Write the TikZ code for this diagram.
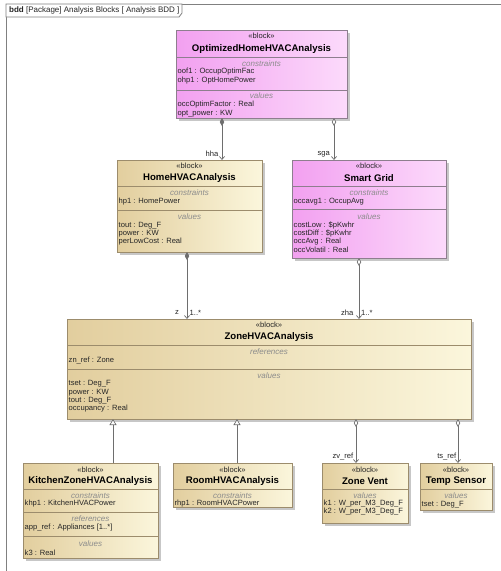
\documentclass[tikz,border=0pt]{standalone}
\usepackage{fontspec}
\setmainfont{Liberation Sans}
\usetikzlibrary{arrows.meta,shadows}

\definecolor{pinkL}{HTML}{F2A0F0}
\definecolor{pinkR}{HTML}{FCDAFB}
\definecolor{pinkB}{HTML}{8E7E8E}
\definecolor{tanL}{HTML}{E2CE9E}
\definecolor{tanR}{HTML}{FBF6DC}
\definecolor{tanB}{HTML}{9C8C6C}
\definecolor{txt}{HTML}{262626}
\definecolor{titlegray}{HTML}{8C8C8C}
\definecolor{linegray}{HTML}{6E6E6E}
\definecolor{framegray}{HTML}{808080}

% block outline at given corners: name, x1, y1, x2, y2, style
\newcommand\mkblock[6]{%
  \node[#6, minimum width={(#4)-(#2)}, minimum height={(#5)-(#3)}]
    (#1) at ({((#2)+(#4))/2},{((#3)+(#5))/2}) {};}
\newcommand\bkst[3]{\node[stereo] (#1) at (#2,#3) {«block»};}
\newcommand\bknm[4]{\node[bname] (#1) at (#2,#3) {#4};}
\newcommand\bkct[4]{\node[ctitle] (#1) at (#2,#3) {#4};}
\newcommand\bkat[4]{\node[attr] (#1) at (#2,#3) {#4};}

\begin{document}
\begin{tikzpicture}[x=1pt,y=-1pt,
  blockbase/.style={line width=0.7pt, inner sep=0pt, outer sep=0pt,
    drop shadow={shadow xshift=2.5pt, shadow yshift=-2.5pt, fill=black, opacity=0.22}},
  pinkblk/.style={blockbase, draw=pinkB, left color=pinkL, right color=pinkR},
  tanblk/.style={blockbase, draw=tanB, left color=tanL, right color=tanR},
  sepP/.style={draw=pinkB, line width=0.6pt},
  sepT/.style={draw=tanB, line width=0.6pt},
  stereo/.style={font=\fontsize{7.6}{8}\selectfont, text=txt, inner sep=0pt},
  bname/.style={font=\bfseries\fontsize{9.6}{11}\selectfont, text=black, inner sep=0pt},
  ctitle/.style={font=\itshape\fontsize{8}{9}\selectfont, text=titlegray, inner sep=0pt},
  attr/.style={font=\fontsize{7.6}{8}\selectfont, text=txt, inner sep=0pt, anchor=west},
  lbl/.style={font=\fontsize{7.6}{8}\selectfont, text=txt, inner sep=0pt},
  conn/.style={draw=linegray, line width=0.7pt},
  compo/.style={conn, {Diamond[length=8pt,width=4.5pt]}-{Straight Barb[length=3pt,width=5pt]}},
  aggr/.style={conn, {Diamond[length=8pt,width=4.5pt,fill=white]}-{Straight Barb[length=3pt,width=5pt]}},
  genl/.style={conn, -{Triangle[length=6pt,width=7pt,fill=white]}},
  framel/.style={draw=framegray, line width=0.8pt}
]
\useasboundingbox (0,0) rectangle (501,571);
\fill[white] (0,0) rectangle (501,571);

% diagram frame and its name tab
\draw[framel] (6,571) -- (6,4) -- (501,4);
\draw[framel, fill=white] (6,4) -- (182,4) -- (182,13) -- (179,17) -- (6,17) -- cycle;
\node[lbl, anchor=west, font=\fontsize{8}{9}\selectfont] (tab) at (9,10.5)
  {\textbf{bdd} [Package] Analysis Blocks [ Analysis BDD ]};

% ---------- OptimizedHomeHVACAnalysis
\mkblock{opt}{176}{30}{347}{118}{pinkblk}
\draw[sepP] (176,57.5) -- (347,57.5);
\draw[sepP] (176,90) -- (347,90);
\bkst{opt-s}{261.5}{35.5}
\bknm{opt-n}{261.5}{49.5}{OptimizedHomeHVACAnalysis}
\bkct{opt-c}{261.5}{63.5}{constraints}
\bkat{opt-a1}{177.5}{72}{oof1 : OccupOptimFac}
\bkat{opt-a2}{177.5}{80.5}{ohp1 : OptHomePower}
\bkct{opt-v}{261.5}{96}{values}
\bkat{opt-a3}{177.5}{105}{occOptimFactor : Real}
\bkat{opt-a4}{177.5}{113.5}{opt\_power : KW}

% ---------- HomeHVACAnalysis
\mkblock{home}{117}{160}{262}{252}{tanblk}
\draw[sepT] (117,186.5) -- (262,186.5);
\draw[sepT] (117,210) -- (262,210);
\bkst{home-s}{189.5}{166}
\bknm{home-n}{189.5}{178.5}{HomeHVACAnalysis}
\bkct{home-c}{189.5}{192.5}{constraints}
\bkat{home-a1}{118.5}{201.5}{hp1 : HomePower}
\bkct{home-v}{189.5}{217}{values}
\bkat{home-a2}{118.5}{225.5}{tout : Deg\_F}
\bkat{home-a3}{118.5}{233.5}{power : KW}
\bkat{home-a4}{118.5}{241.5}{perLowCost : Real}

% ---------- Smart Grid
\mkblock{grid}{292}{160}{446}{258}{pinkblk}
\draw[sepP] (292,186.5) -- (446,186.5);
\draw[sepP] (292,209.5) -- (446,209.5);
\bkst{grid-s}{369}{166}
\bknm{grid-n}{369}{178.5}{Smart Grid}
\bkct{grid-c}{369}{193}{constraints}
\bkat{grid-a1}{293.5}{201.5}{occavg1 : OccupAvg}
\bkct{grid-v}{369}{217}{values}
\bkat{grid-a2}{293.5}{225}{costLow : \$pKwhr}
\bkat{grid-a3}{293.5}{233.3}{costDiff : \$pKwhr}
\bkat{grid-a4}{293.5}{241.7}{occAvg : Real}
\bkat{grid-a5}{293.5}{250}{occVolatil : Real}

% ---------- ZoneHVACAnalysis
\mkblock{zone}{67}{319}{471}{419}{tanblk}
\draw[sepT] (67,345) -- (471,345);
\draw[sepT] (67,369.5) -- (471,369.5);
\bkst{zone-s}{269}{325}
\bknm{zone-n}{269}{337.5}{ZoneHVACAnalysis}
\bkct{zone-r}{269}{351.5}{references}
\bkat{zone-a1}{68.5}{360}{zn\_ref : Zone}
\bkct{zone-v}{269}{376}{values}
\bkat{zone-a2}{68.5}{384}{tset : Deg\_F}
\bkat{zone-a3}{68.5}{392.3}{power : KW}
\bkat{zone-a4}{68.5}{400.7}{tout : Deg\_F}
\bkat{zone-a5}{68.5}{409}{occupancy : Real}

% ---------- KitchenZoneHVACAnalysis
\mkblock{kit}{23}{463}{158}{558}{tanblk}
\draw[sepT] (23,489.5) -- (158,489.5);
\draw[sepT] (23,512.5) -- (158,512.5);
\draw[sepT] (23,536) -- (158,536);
\bkst{kit-s}{90.5}{470}
\bknm{kit-n}{90.5}{481}{KitchenZoneHVACAnalysis}
\bkct{kit-c}{90.5}{495.8}{constraints}
\bkat{kit-a1}{24.5}{504}{khp1 : KitchenHVACPower}
\bkct{kit-r}{90.5}{519}{references}
\bkat{kit-a2}{24.5}{527.8}{app\_ref : Appliances [1..*]}
\bkct{kit-v}{90.5}{543.3}{values}
\bkat{kit-a3}{24.5}{552.5}{k3 : Real}

% ---------- RoomHVACAnalysis
\mkblock{room}{173}{463}{292}{507}{tanblk}
\draw[sepT] (173,489.5) -- (292,489.5);
\bkst{room-s}{232.5}{470}
\bknm{room-n}{232.5}{481}{RoomHVACAnalysis}
\bkct{room-c}{232.5}{495.8}{constraints}
\bkat{room-a1}{174.5}{504}{rhp1 : RoomHVACPower}

% ---------- Zone Vent
\mkblock{vent}{322}{463}{408}{523}{tanblk}
\draw[sepT] (322,489.5) -- (408,489.5);
\bkst{vent-s}{365}{470}
\bknm{vent-n}{365}{481}{Zone Vent}
\bkct{vent-v}{365}{495.8}{values}
\bkat{vent-a1}{323.5}{504}{k1 : W\_per\_M3\_Deg\_F}
\bkat{vent-a2}{323.5}{511.7}{k2 : W\_per\_M3\_Deg\_F}

% ---------- Temp Sensor
\mkblock{temp}{420}{463}{492}{510}{tanblk}
\draw[sepT] (420,489.5) -- (492,489.5);
\bkst{temp-s}{456}{470}
\bknm{temp-n}{456}{481}{Temp Sensor}
\bkct{temp-v}{456}{495.8}{values}
\bkat{temp-a1}{421.5}{504.3}{tset : Deg\_F}

% ---------- connector lanes
\coordinate (lane-hha) at (222,0);
\coordinate (lane-sga) at (334,0);
\coordinate (lane-z)   at (187,0);
\coordinate (lane-zha) at (359,0);
\coordinate (lane-kit) at (113,0);
\coordinate (lane-room) at (237,0);
\coordinate (lane-zv)  at (356,0);
\coordinate (lane-ts)  at (458,0);

% part associations
\draw[compo] (opt.south -| lane-hha) -- (home.north -| lane-hha);
\draw[aggr]  (opt.south -| lane-sga) -- (grid.north -| lane-sga);
\draw[compo] (home.south -| lane-z) -- (zone.north -| lane-z);
\draw[aggr]  (grid.south -| lane-zha) -- (zone.north -| lane-zha);
\draw[aggr]  (zone.south -| lane-zv) -- (vent.north -| lane-zv);
\draw[aggr]  (zone.south -| lane-ts) -- (temp.north -| lane-ts);

% generalizations
\draw[genl] (kit.north -| lane-kit) -- (zone.south -| lane-kit);
\draw[genl] (room.north -| lane-room) -- (zone.south -| lane-room);

% role names and multiplicities
\node[lbl, anchor=east] (l-hha) at (218.5,154) {hha};
\node[lbl, anchor=east] (l-sga) at (330,154) {sga};
\node[lbl, anchor=east] (l-z) at (179,312.5) {z};
\node[lbl, anchor=west] (m-z) at (189.5,312.5) {1..*};
\node[lbl, anchor=east] (l-zha) at (353.5,312.5) {zha};
\node[lbl, anchor=west] (m-zha) at (361,312.5) {1..*};
\node[lbl, anchor=east] (l-zv) at (353.5,456.5) {zv\_ref};
\node[lbl, anchor=east] (l-ts) at (456.5,456.5) {ts\_ref};
\end{tikzpicture}
\end{document}
